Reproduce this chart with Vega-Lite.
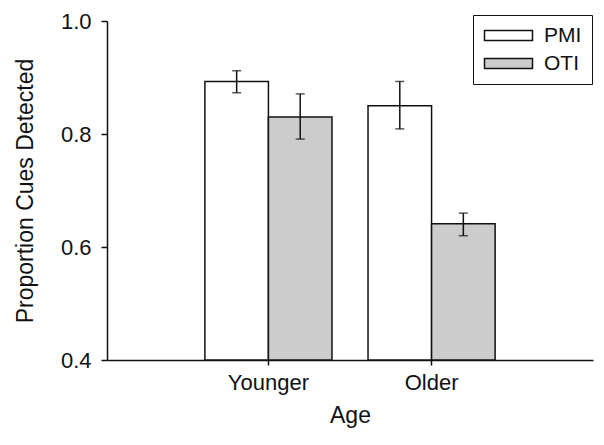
{
  "$schema": "https://vega.github.io/schema/vega-lite/v6.json",
  "autosize": {"type": "none"},
  "padding": {"left": 107, "top": 21, "right": 11, "bottom": 85},
  "width": 486,
  "height": 339,
  "background": "white",
  "config": {
    "view": {"stroke": null},
    "font": "Liberation Sans",
    "axis": {"domainColor": "#111", "domainWidth": 1.5, "tickColor": "#111", "tickWidth": 1.5, "labelColor": "#111", "titleColor": "#111", "labelFont": "Liberation Sans", "titleFont": "Liberation Sans", "labelFontSize": 22, "titleFontSize": 23, "titleFontWeight": "normal", "grid": false}
  },
  "data": {"values": [
    {"age": "Younger", "cond": "PMI", "mean": 0.893, "lo": 0.873, "hi": 0.912},
    {"age": "Younger", "cond": "OTI", "mean": 0.830, "lo": 0.791, "hi": 0.871},
    {"age": "Older", "cond": "PMI", "mean": 0.850, "lo": 0.809, "hi": 0.893},
    {"age": "Older", "cond": "OTI", "mean": 0.641, "lo": 0.620, "hi": 0.660}
  ]},
  "encoding": {
    "x": {"field": "age", "type": "nominal", "sort": ["Younger", "Older"],
      "scale": {"paddingInner": 0.221, "paddingOuter": 0.6},
      "axis": {"title": "Age", "labelAngle": 0, "tickSize": 5, "labelPadding": 7, "titlePadding": 11}},
    "xOffset": {"field": "cond", "type": "nominal", "sort": ["PMI", "OTI"], "scale": {"paddingInner": 0, "paddingOuter": 0}}
  },
  "layer": [
    {
      "mark": {"type": "bar", "stroke": "#111", "strokeWidth": 1.5},
      "encoding": {
        "y": {"field": "mean", "type": "quantitative",
          "scale": {"domain": [0.4, 1.0], "zero": false, "nice": false},
          "axis": {"title": "Proportion Cues Detected", "values": [0.4, 0.6, 0.8, 1.0], "format": ".1f", "tickSize": 6, "labelPadding": 10, "titlePadding": 23}},
        "y2": {"datum": 0.4},
        "fill": {"field": "cond", "type": "nominal", "sort": ["PMI", "OTI"],
          "scale": {"domain": ["PMI", "OTI"], "range": ["#ffffff", "#cccccc"]},
          "legend": {"title": null, "orient": "none", "legendX": 366, "legendY": -6,
            "strokeColor": "#111", "padding": 10,
            "symbolType": "M-4.8,-1H4.8V1H-4.8Z", "symbolSize": 100,
            "symbolStrokeColor": "#111", "symbolStrokeWidth": 1.5,
            "symbolOffset": 15, "labelOffset": 25, "labelFontSize": 21, "labelColor": "#111", "labelFont": "Liberation Sans", "rowPadding": 6}}
      }
    },
    {
      "mark": {"type": "rule", "color": "#111", "strokeWidth": 1.5},
      "encoding": {"y": {"field": "lo", "type": "quantitative"}, "y2": {"field": "hi"}}
    },
    {
      "mark": {"type": "tick", "color": "#111", "thickness": 1.5, "size": 9},
      "encoding": {"y": {"field": "lo", "type": "quantitative"}}
    },
    {
      "mark": {"type": "tick", "color": "#111", "thickness": 1.5, "size": 9},
      "encoding": {"y": {"field": "hi", "type": "quantitative"}}
    }
  ]
}
